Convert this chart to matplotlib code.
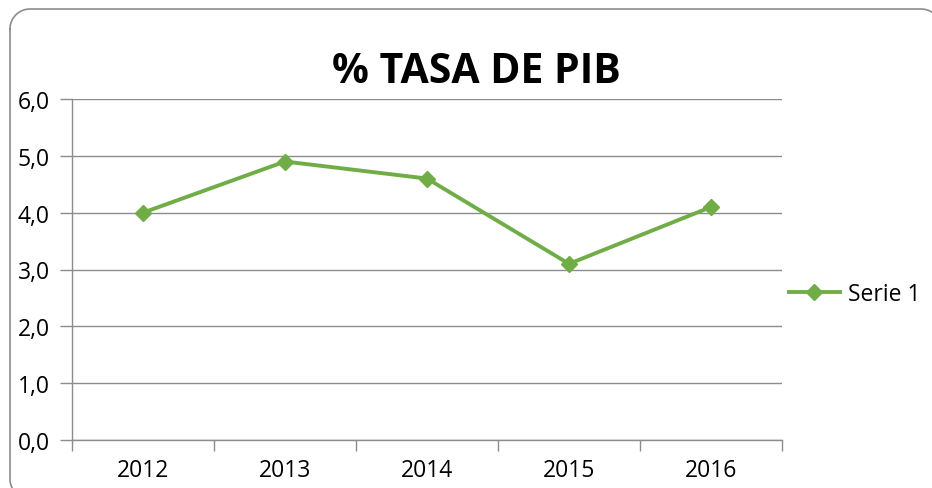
import matplotlib

matplotlib.use("Agg")
import matplotlib.pyplot as plt
import numpy as np
from matplotlib.ticker import FixedLocator, FuncFormatter

# Datos
years = ["2012", "2013", "2014", "2015", "2016"]
tasa_pib = [4.0, 4.9, 4.6, 3.1, 4.1]
y_ticks = [0, 1, 2, 3, 4, 5, 6]

GREEN = "#70AD47"
GRID = "#8C8C8C"

plt.rcParams["font.family"] = ["Open Sans", "DejaVu Sans"]

fig = plt.figure(figsize=(9.32, 4.89), dpi=100)


def _rounded_frame(x0, y0, x1, y1, r):
    """Contorno de un rectangulo con esquinas redondeadas (pixeles, y hacia abajo)."""
    t = np.linspace(0, np.pi / 2, 20)
    xs, ys = [], []
    for cx, cy, a0 in [(x0 + r, y0 + r, np.pi), (x1 - r, y0 + r, 1.5 * np.pi),
                       (x1 - r, y1 - r, 0), (x0 + r, y1 - r, 0.5 * np.pi)]:
        xs.extend(cx + r * np.cos(a0 + t))
        ys.extend(cy + r * np.sin(a0 + t))
    xs.append(xs[0])
    ys.append(ys[0])
    return xs, ys


# Marco redondeado del grafico, en coordenadas de pixel
frame = fig.add_axes([0, 0, 1, 1], zorder=-1)
frame.set_xlim(0, 932)
frame.set_ylim(489, 0)
frame.axis("off")
fx, fy = _rounded_frame(10, 10, 941, 500, 20)
frame.plot(fx, fy, color=GRID, lw=1.2, clip_on=False)

ax = fig.add_axes([72 / 932, 1 - 441 / 489, 710 / 932, 341 / 489])

x = list(range(len(years)))
ax.plot(x, tasa_pib, color=GREEN, lw=2.8, marker="D", ms=8, label="Serie 1")

ax.set_xlim(-0.5, len(years) - 0.5)
ax.set_ylim(0, 6)
ax.set_yticks(y_ticks)
ax.yaxis.set_major_formatter(FuncFormatter(lambda v, _: f"{v:.1f}".replace(".", ",")))
ax.set_xticks(x)
ax.set_xticklabels(years)
ax.xaxis.set_minor_locator(FixedLocator([i - 0.5 for i in range(len(years) + 1)]))
ax.tick_params(axis="x", which="major", length=0, pad=13, labelsize=16.5)
ax.tick_params(axis="x", which="minor", length=8, color=GRID, width=1)
ax.tick_params(axis="y", length=9, color=GRID, width=1, pad=7, labelsize=16.5)

ax.grid(axis="y", color=GRID, lw=1)
for side in ("top", "right"):
    ax.spines[side].set_visible(False)
for side in ("left", "bottom"):
    ax.spines[side].set_color(GRID)
    ax.spines[side].set_linewidth(1)

ax.set_title("% TASA DE PIB", fontsize=29.5, fontweight="bold", pad=12, x=(476 - 72) / 710)

fig.legend(loc="center left", bbox_to_anchor=(780 / 932, 1 - 295 / 489), frameon=False,
           fontsize=16.5, handlelength=2.2, handletextpad=0.35, borderaxespad=0)

fig.savefig("out.png", dpi=100)
